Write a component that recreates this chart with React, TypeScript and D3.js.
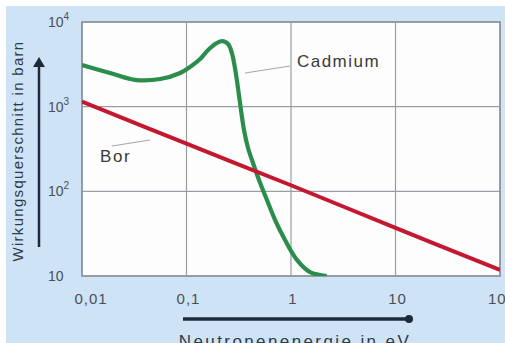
import * as d3 from "d3";
import React from "react";

// Wirkungsquerschnitt von Bor und Cadmium (log-log)
const energyTicks = [0.01, 0.1, 1, 10, 100];
const energyTickLabels = ["0,01", "0,1", "1", "10", "100"];
const sigmaTicks = [10, 100, 1000, 10000];
const sigmaTickExp = ["", "2", "3", "4"];

const borEnergy = [0.01, 0.1, 1, 10, 100];
const borSigma = [1150, 365, 118, 37, 11.8];

const cadEnergy = [0.01, 0.0185, 0.032, 0.056, 0.087, 0.108, 0.135, 0.161, 0.188, 0.219, 0.25, 0.272, 0.291, 0.311, 0.332, 0.355, 0.388, 0.433, 0.494, 0.589, 0.703, 0.877, 1.14, 1.52, 2.2];
const cadSigma = [3100, 2500, 2070, 2120, 2500, 2940, 3650, 4670, 5500, 5960, 5500, 4300, 2860, 1660, 913, 530, 325, 216, 136, 79, 46, 26.6, 15.5, 11.1, 10];

// label anchors in data space [energy, sigma]
const cadLabel = { text: "Cadmium", at: [1.14, 2940], from: [0.363, 2500], to: [0.978, 3020] };
const borLabel = { text: "Bor", at: [0.0149, 222], from: [0.0194, 343], to: [0.0448, 404] };

export default function App() {
  const WIDTH = 505;
  const HEIGHT = 343;
  const margin = { top: 22, right: 5, bottom: 67, left: 82 };

  const x = d3.scaleLog().domain([0.01, 100]).range([margin.left, WIDTH - margin.right]);
  const y = d3.scaleLog().domain([10, 10000]).range([HEIGHT - margin.bottom, margin.top]);

  const line = d3
    .line<number[]>()
    .x(d => x(d[0]))
    .y(d => y(d[1]))
    .curve(d3.curveCatmullRom.alpha(0.5));

  const borPts = borEnergy.map((e, i) => [e, borSigma[i]]);
  const cadPts = cadEnergy.map((e, i) => [e, cadSigma[i]]);

  const x0 = x.range()[0], x1 = x.range()[1];
  const y0 = y.range()[0], y1 = y.range()[1];
  const font = "'Liberation Sans', Arial, sans-serif";

  return (
    <svg width={WIDTH} height={HEIGHT} style={{ position: "absolute", left: 0, top: 0 }} fontFamily={font}>
      <rect width={WIDTH} height={HEIGHT} fill="#fff" />
      <rect x={6} y={6} width={WIDTH - 6} height={HEIGHT - 6} fill="#cfe3f6" />

      {/* plot area */}
      <rect x={x0} y={y1} width={x1 - x0} height={y0 - y1} fill="#fdfdfd" />

      {/* grid */}
      {energyTicks.map((t, i) => (
        <line key={i} x1={x(t)} x2={x(t)} y1={y1} y2={y0} stroke="#9a9ea4" strokeWidth={1.2} />
      ))}
      {sigmaTicks.map((t, i) => (
        <line key={i} x1={x0} x2={x1} y1={y(t)} y2={y(t)} stroke="#9a9ea4" strokeWidth={1.2} />
      ))}
      <rect x={x0} y={y1} width={x1 - x0} height={y0 - y1} fill="none" stroke="#8d939a" strokeWidth={1.6} />

      {/* curves */}
      <g clipPath="url(#plotclip)">
        <clipPath id="plotclip">
          <rect x={x0} y={y1} width={x1 - x0} height={y0 - y1} />
        </clipPath>
        <path d={line(cadPts) || ""} fill="none" stroke="#2b8d4c" strokeWidth={4.2} strokeLinejoin="round" />
        <path d={line(borPts) || ""} fill="none" stroke="#c3182f" strokeWidth={4} />
      </g>

      {/* annotations */}
      {[cadLabel, borLabel].map((a, i) => (
        <g key={i}>
          <line
            x1={x(a.from[0])}
            y1={y(a.from[1])}
            x2={x(a.to[0])}
            y2={y(a.to[1])}
            stroke="#a4a8ac"
            strokeWidth={1.2}
          />
          <text x={x(a.at[0])} y={y(a.at[1])} fontSize={17} letterSpacing={1.5} fill="#3a3a3a">
            {a.text}
          </text>
        </g>
      ))}

      {/* x tick labels */}
      {energyTicks.map((t, i) => (
        <text key={i} x={x(t) + (i === 0 ? 9 : 2)} y={304} fontSize={15} letterSpacing={1} textAnchor="middle" fill="#4a4f55">
          {energyTickLabels[i]}
        </text>
      ))}

      {/* y tick labels */}
      {sigmaTicks.map((t, i) => (
        <text key={i} x={48} y={y(t) + 5} fontSize={14} fill="#4a4f55">
          10
          {sigmaTickExp[i] && (
            <tspan fontSize={10} dy={-7}>
              {sigmaTickExp[i]}
            </tspan>
          )}
        </text>
      ))}

      {/* x axis arrow + title */}
      <line x1={183} x2={408} y1={319} y2={319} stroke="#1d2b39" strokeWidth={3.5} />
      <circle cx={409} cy={319} r={4} fill="#1d2b39" />
      <text x={295} y={347} fontSize={17} letterSpacing={2.4} textAnchor="middle" fill="#2e3a46">
        Neutronenenergie in eV
      </text>

      {/* y axis arrow + title */}
      <line x1={39} x2={39} y1={66} y2={247} stroke="#1d2b39" strokeWidth={2.5} />
      <path d="M33,67 L39,57 L45,67 Z" fill="#1d2b39" />
      <text
        transform="translate(23,151) rotate(-90)"
        fontSize={15}
        letterSpacing={1.3}
        textAnchor="middle"
        fill="#2e3a46"
      >
        Wirkungsquerschnitt in barn
      </text>
    </svg>
  );
}
